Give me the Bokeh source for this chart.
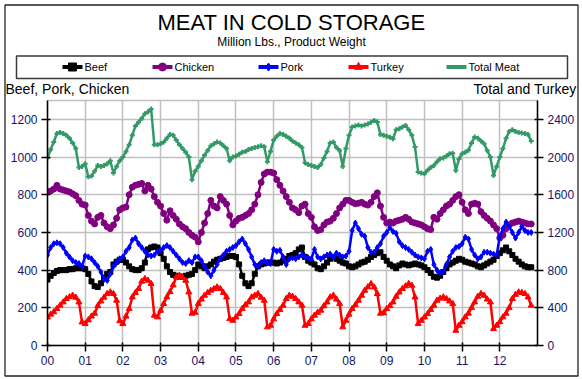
from bokeh.plotting import figure
from bokeh.models import Range1d, LinearAxis, FixedTicker
from bokeh.core.properties import value
from bokeh.embed import file_html
from bokeh.resources import INLINE

# ---------------- data (monthly, Jan 2000 - Nov 2012) ----------------
start_year = 2000
beef = [350, 370, 385, 395, 400, 400, 400, 405, 405, 410, 410, 410,
        405, 380, 340, 315, 310, 330, 360, 380, 390, 430, 445, 455,
        455, 440, 420, 405, 400, 400, 410, 440, 510, 520, 525, 520,
        490, 460, 420, 390, 375, 370, 365, 365, 370, 375, 380, 400,
        430, 420, 410, 420, 430, 445, 455, 460, 465, 470, 475, 475,
        470, 430, 370, 330, 315, 330, 380, 420, 430, 435, 440, 440,
        440, 435, 440, 450, 460, 475, 480, 490, 510, 520, 470, 450,
        440, 430, 410, 405, 420, 440, 460, 470, 460, 450, 440, 435,
        420, 415, 420, 430, 440, 445, 455, 470, 480, 490, 495, 470,
        450, 430, 420, 410, 425, 435, 430, 425, 430, 435, 430, 425,
        415, 400, 385, 365, 360, 370, 390, 410, 430, 440, 450, 460,
        455, 445, 440, 435, 430, 420, 415, 425, 435, 445, 455, 475,
        490, 505, 520, 500, 480, 460, 445, 430, 420, 415, 415]
chicken = [815, 820, 830, 850, 830, 825, 820, 815, 805, 795, 770, 750,
           745, 690, 660, 645, 680, 690, 650, 630, 620, 640, 675, 720,
           730, 735, 800, 840, 850, 855, 860, 820, 850, 830, 790, 760,
           740, 700, 665, 715, 690, 670, 645, 630, 620, 600, 585, 575,
           550, 600, 650, 700, 770, 740, 730, 790, 770, 750, 690, 640,
           660, 675, 680, 690, 700, 720, 750, 800, 865, 910, 920, 920,
           915, 880, 850, 820, 790, 760, 730, 720, 705, 740, 750, 700,
           680, 630, 610, 615, 640, 655, 660, 675, 700, 730, 750, 770,
           770, 760, 752, 755, 760, 750, 745, 760, 790, 810, 740, 680,
           650, 655, 650, 660, 665, 670, 680, 670, 655, 650, 645, 640,
           630, 620, 615, 680, 670, 700, 720, 740, 750, 770, 790, 800,
           760, 720, 700, 750, 755, 750, 710, 690, 675, 660, 640, 620,
           570, 585, 620, 640, 650, 655, 660, 655, 650, 645, 645]
pork = [480, 520, 540, 545, 540, 520, 490, 470, 450, 440, 435, 420,
        475, 470, 460, 440, 420, 390, 350, 345, 380, 420, 440, 460,
        470, 500, 520, 560, 570, 540, 520, 500, 480, 475, 480, 500,
        505, 520, 530, 520, 500, 480, 460, 440, 435, 450, 440, 470,
        470, 450, 420, 390, 370, 400, 430, 460, 480, 500, 510, 520,
        530, 550, 565, 540, 510, 470, 430, 420, 440, 450, 440, 435,
        510, 500, 505, 470, 430, 460, 465, 460, 470, 480, 470, 465,
        460, 510, 470, 460, 470, 480, 485, 470, 490, 480, 470, 475,
        500, 610, 650, 620, 590, 580, 520, 495, 495, 520, 540, 580,
        600, 625, 605, 595, 550, 530, 520, 510, 495, 480, 470, 465,
        460, 500, 510, 430, 400, 385, 390, 430, 470, 500, 520, 525,
        540, 575, 565, 510, 480, 460, 470, 495, 495, 490, 485, 480,
        580, 620, 655, 630, 600, 570, 600, 630, 610, 600, 600]
turkey = [300, 330, 355, 390, 425, 460, 496, 515, 531, 510, 460, 247,
          230, 270, 310, 340, 420, 470, 510, 550, 566, 549, 478, 260,
          230, 310, 389, 513, 560, 602, 680, 708, 690, 655, 319, 301,
          370, 443, 513, 570, 640, 725, 743, 720, 690, 566, 340, 350,
          443, 490, 531, 560, 584, 600, 619, 602, 560, 513, 283, 265,
          300, 336, 390, 430, 460, 513, 530, 549, 510, 478, 195, 212,
          280, 336, 380, 425, 496, 531, 520, 496, 460, 425, 212, 230,
          280, 319, 350, 372, 420, 460, 513, 531, 490, 443, 195, 265,
          330, 389, 430, 478, 530, 584, 620, 655, 619, 549, 340, 345,
          389, 420, 460, 520, 566, 602, 630, 655, 637, 513, 230, 265,
          300, 336, 380, 425, 478, 500, 513, 496, 470, 443, 159, 212,
          250, 301, 340, 400, 460, 520, 549, 531, 490, 460, 177, 212,
          250, 301, 340, 400, 496, 540, 566, 560, 549, 513, 425]
total = [1990, 2080, 2160, 2250, 2260, 2250, 2230, 2200, 2150, 2090, 1890, 1900,
         1930, 1790, 1800, 1850, 1910, 1900, 1910, 1930, 1960, 1830, 1900, 1960,
         2000, 2060, 2130, 2230, 2330, 2370, 2410, 2460, 2480, 2510, 2130, 2130,
         2140, 2160, 2200, 2240, 2230, 2180, 2130, 2090, 2050, 2000, 1760, 1850,
         1900, 1960, 2020, 2070, 2120, 2140, 2160, 2150, 2120, 2090, 1960, 2000,
         2010, 2030, 2050, 2060, 2080, 2090, 2100, 2110, 2120, 2110, 1950, 2060,
         2180, 2220, 2250, 2240, 2220, 2200, 2170, 2150, 2130, 2100, 1940, 1920,
         1910, 1900, 1890, 1920, 1990, 2060, 2150, 2160, 2100, 2070, 1900, 2090,
         2230, 2318, 2330, 2340, 2330, 2340, 2350, 2370, 2389, 2371, 2240, 2230,
         2220, 2210, 2195, 2290, 2300, 2320, 2336, 2290, 2230, 2106, 1840, 1830,
         1823, 1860, 1890, 1911, 1950, 1982, 1990, 2010, 2036, 2040, 1858, 1980,
         2036, 2050, 2071, 2150, 2212, 2200, 2170, 2142, 2070, 2000, 1805, 1900,
         2000, 2090, 2200, 2270, 2290, 2270, 2260, 2255, 2250, 2240, 2170]

series_names = ["Beef", "Chicken", "Pork", "Turkey", "Total Meat"]
year_ticks = list(range(2000, 2013))
year_labels = ["00", "01", "02", "03", "04", "05", "06", "07", "08", "09", "10", "11", "12"]
left_ticks = [0, 200, 400, 600, 800, 1000, 1200]
right_ticks = [0, 400, 800, 1200, 1600, 2000, 2400]

months = [start_year + i / 12.0 for i in range(len(beef))]

FONT = "Liberation Sans"
W, H = 580, 378
FL, FR, FT, FB = 47, 537, 100, 345   # plot-area edges on the page

colors = ["black", "#800080", "#0000ff", "#ff0000", "#339966"]
markers = ["square", "circle", "diamond", "triangle", None]

# ---------------- background sheet: frame, titles, legend ----------------
bg = figure(width=W, height=H, x_range=Range1d(0, W), y_range=Range1d(H, 0),
            toolbar_location=None, output_backend="svg",
            x_axis_location=None, y_axis_location=None, min_border=0)
bg.grid.visible = False
bg.outline_line_color = None

bg.quad(left=[4.5], right=[577.5], top=[4.5], bottom=[375.5], fill_alpha=0,
        line_color="#222222", line_width=1.3)


def txt(s, x, y, align, size):
    bg.text(x=[x], y=[y], text=[s], text_align=align, text_baseline="middle",
            text_font=value(FONT), text_font_size=value(size), text_color="black")


txt("MEAT IN COLD STORAGE", 291, 22, "center", "22px")
txt("Million Lbs., Product Weight", 291, 41, "center", "12px")

bg.quad(left=[16], right=[567], top=[55.5], bottom=[78], fill_color="white",
        line_color="#3a3a3a", line_width=1.5)
leg_x = [62, 152, 258, 348, 446]
leg_y = 66.5
for name, c, m, x0 in zip(series_names, colors, markers, leg_x):
    bg.segment(x0=[x0], y0=[leg_y], x1=[x0 + 20], y1=[leg_y], line_color=c, line_width=4)
    if m is not None:
        bg.scatter(x=[x0 + 10], y=[leg_y], marker=m, size=8, color=c)
    txt(name, x0 + 22, leg_y, "left", "11px")

txt("Beef, Pork, Chicken", 5, 88, "left", "14px")
txt("Total and Turkey", 576, 88, "right", "14px")

# ---------------- chart (drawn over the sheet) ----------------
p = figure(width=W, height=H, x_range=Range1d(2000, 2013), y_range=Range1d(0, 1300),
           toolbar_location=None, output_backend="svg",
           min_border_left=FL, min_border_right=W - FR, min_border_top=FT,
           min_border_bottom=H - FB,
           styles={"position": "absolute", "left": "0px", "top": "0px"})
p.border_fill_alpha = 0
p.background_fill_alpha = 0
p.extra_y_ranges = {"right": Range1d(0, 2600)}
p.outline_line_color = "#c0c0c0"
p.outline_line_width = 1.5

raxis = LinearAxis(y_range_name="right")
p.add_layout(raxis, "right")

p.xaxis.ticker = FixedTicker(ticks=year_ticks)
p.xaxis.major_label_overrides = {t: l for t, l in zip(year_ticks, year_labels)}
p.yaxis[0].ticker = FixedTicker(ticks=left_ticks)
raxis.ticker = FixedTicker(ticks=right_ticks)

for ax in [p.xaxis[0], p.yaxis[0], raxis]:
    ax.axis_line_color = "black"
    ax.axis_line_width = 1.5
    ax.major_tick_line_color = "black"
    ax.major_tick_line_width = 1.5
    ax.major_tick_in = 3
    ax.major_tick_out = 6
    ax.minor_tick_line_color = None
    ax.major_label_text_font = FONT
    ax.major_label_text_font_size = "12px"
    ax.major_label_text_color = "#141466"
    ax.major_label_standoff = 4

p.xgrid.ticker = FixedTicker(ticks=year_ticks)
p.ygrid.ticker = FixedTicker(ticks=left_ticks)
p.grid.grid_line_color = "#c0c0c0"
p.grid.grid_line_width = 1.5

series = [(beef, "default"), (chicken, "default"), (pork, "default"), (turkey, "right"), (total, "right")]
sizes = [5, 6, 6, 6, 5]
for (vals, rng), c, m, s in zip(series, colors, markers, sizes):
    p.line(months, vals, line_color=c, line_width=2.5, y_range_name=rng)
    p.scatter(months, vals, marker=(m if m else "cross"), size=s, color=c,
              line_width=(1 if m else 2), y_range_name=rng)

open("out.html", "w").write(file_html([bg, p], INLINE))
